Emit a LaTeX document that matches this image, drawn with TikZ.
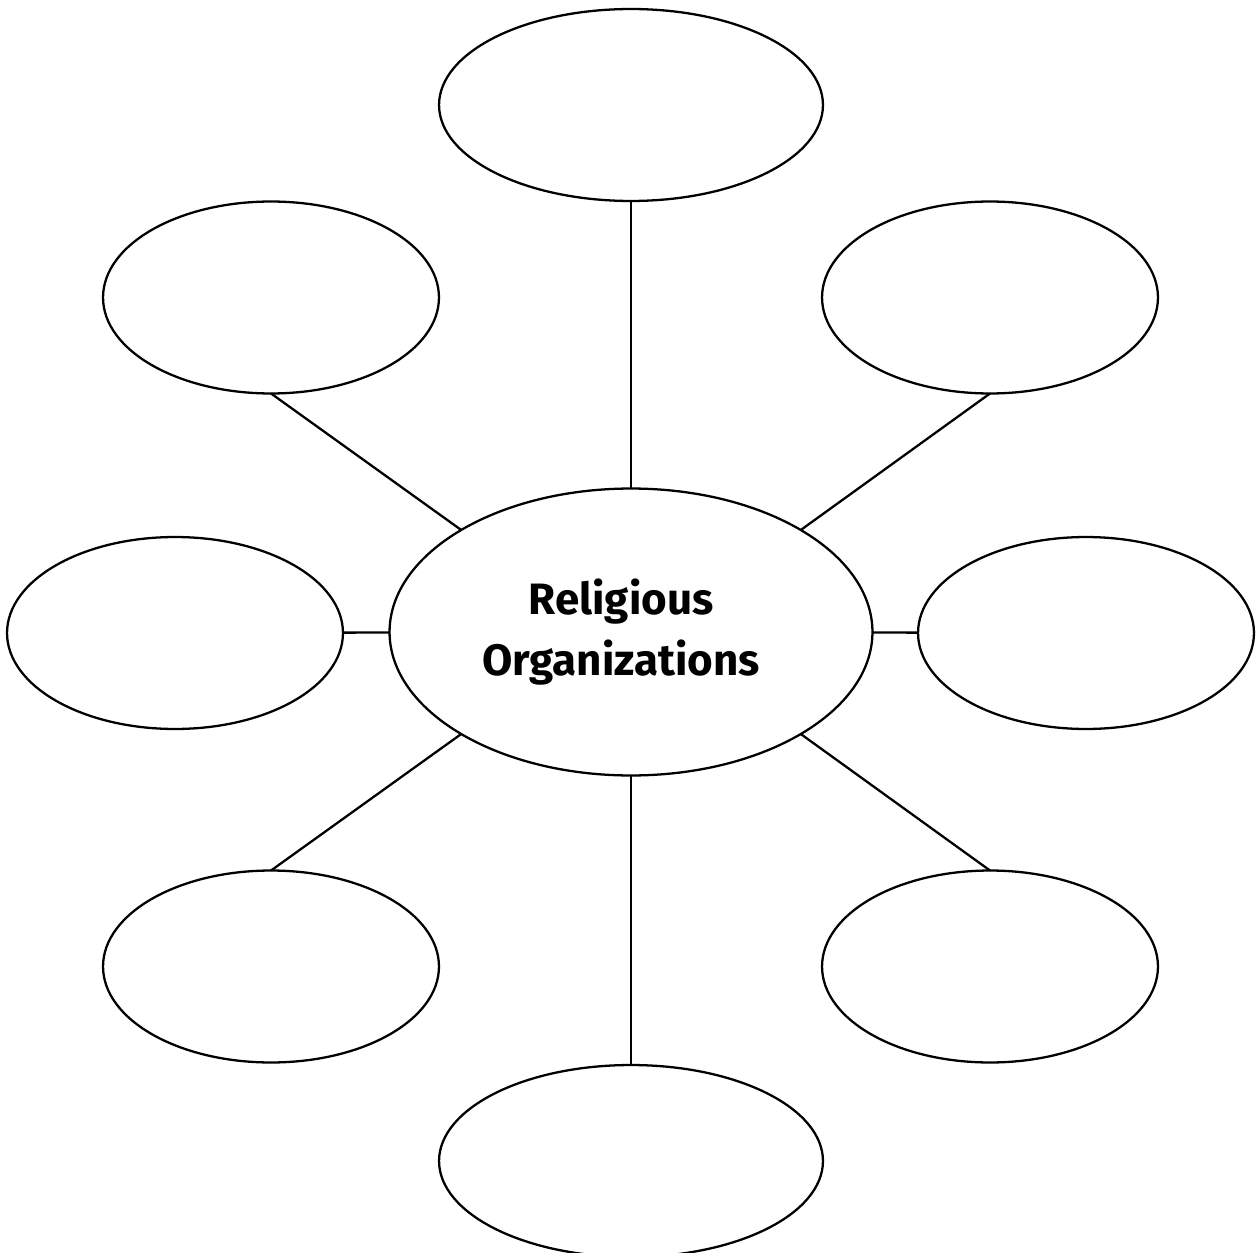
\documentclass[tikz,border=0pt]{standalone}
\usepackage{fontspec}
\setsansfont{Fira Sans}
\usetikzlibrary{shapes.geometric}

\begin{document}
\begin{tikzpicture}[x=0.02cm,y=-0.02cm,line width=1.3pt,
hub/.style={ellipse,draw,inner sep=0pt,outer sep=0pt,minimum width=9.66cm,minimum height=5.74cm,
	align=center,font=\sffamily\bfseries\fontsize{25}{34.6}\selectfont},
spoke/.style={ellipse,draw,inner sep=0pt,outer sep=0pt,minimum width=6.72cm,minimum height=3.84cm},
wide spoke/.style={spoke,minimum width=7.68cm}]
\useasboundingbox (0,0) rectangle (1257,1253);

\node[hub] (org) at (631,632) {Religious\hspace*{0.4cm}\\Organizations\hspace*{0.4cm}};
\node[wide spoke] (top) at (631,105) {};
\node[wide spoke] (bot) at (631,1161) {};
\node[spoke] (ul) at (271,297.5) {};
\node[spoke] (ur) at (990,297.5) {};
\node[spoke] (l) at (175,633) {};
\node[spoke] (r) at (1086,633) {};
\node[spoke] (ll) at (271,966.5) {};
\node[spoke] (lr) at (990,966.5) {};

\draw (top) -- (org);
\draw (bot) -- (org);
\draw (l) -- (org);
\draw (r) -- (org);
\draw (ul.south) -- (org.149);
\draw (ur.south) -- (org.31);
\draw (ll.north) -- (org.211);
\draw (lr.north) -- (org.329);
\end{tikzpicture}
\end{document}
